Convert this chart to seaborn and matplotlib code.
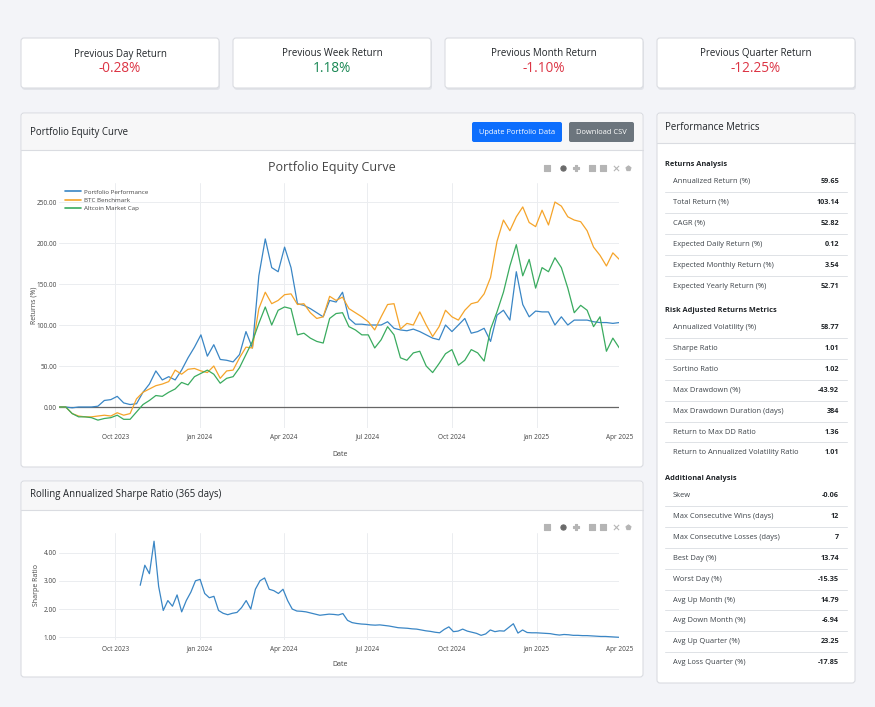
import numpy as np
import pandas as pd
import seaborn as sns
import matplotlib.pyplot as plt
import matplotlib.dates as mdates
from matplotlib.patches import FancyBboxPatch, Rectangle

# ---- data ----
card_titles = ["Previous Day Return", "Previous Week Return",
               "Previous Month Return", "Previous Quarter Return"]
card_values = [-0.28, 1.18, -1.10, -12.25]

dates = pd.date_range("2023-08-01", "2025-04-01", periods=88)
portfolio = [0, 0, -1, 0, 0, 0, 1, 8, 9, 13,
             5, 3, 4, 18, 28, 44, 33, 37, 33, 45,
             60, 73, 88, 62, 76, 58, 57, 55, 64, 92,
             72, 160, 205, 170, 165, 195, 170, 126, 124, 120,
             115, 110, 130, 128, 140, 108, 101, 101, 100, 100,
             100, 104, 96, 94, 93, 95, 92, 88, 84, 82,
             100, 92, 100, 108, 90, 92, 96, 80, 112, 118,
             106, 165, 125, 110, 117, 116, 116, 100, 110, 100,
             106, 106, 106, 104, 103, 103, 102, 103]
btc = [0, 0, -8, -11, -12, -12, -11, -10, -11, -7,
       -10, -8, 10, 18, 22, 26, 28, 31, 45, 40,
       46, 47, 44, 42, 50, 35, 44, 45, 60, 73,
       72, 120, 140, 126, 130, 137, 138, 125, 126, 115,
       108, 110, 135, 130, 134, 120, 115, 110, 104, 94,
       110, 125, 126, 95, 102, 100, 116, 100, 86, 98,
       118, 110, 106, 118, 126, 128, 138, 158, 202, 228,
       215, 232, 244, 225, 220, 240, 222, 250, 245, 232,
       228, 226, 215, 195, 185, 172, 188, 180]
altcoin = [0, 0, -8, -12, -12, -13, -16, -14, -13, -10,
           -15, -15, -6, 3, 8, 14, 13, 18, 22, 30,
           27, 37, 41, 45, 40, 29, 35, 37, 48, 64,
           80, 102, 122, 100, 118, 122, 120, 88, 90, 84,
           80, 78, 108, 114, 115, 98, 94, 88, 88, 72,
           82, 98, 88, 60, 57, 66, 68, 50, 42, 53,
           65, 70, 51, 57, 70, 66, 56, 95, 116, 140,
           172, 198, 160, 180, 145, 170, 165, 182, 170, 145,
           115, 124, 118, 98, 110, 68, 84, 72]

sharpe_dates = pd.date_range("2023-10-28", "2025-04-01", periods=105)
sharpe = [2.84, 3.55, 3.25, 4.40, 2.80, 1.95, 2.30, 2.10, 2.50, 1.90,
          2.30, 2.60, 3.00, 3.05, 2.55, 2.40, 2.45, 1.95, 1.85, 1.80,
          1.85, 1.88, 2.05, 2.30, 2.00, 2.70, 3.00, 3.10, 2.70, 2.65,
          2.55, 2.70, 2.30, 2.00, 1.93, 1.92, 1.90, 1.86, 1.82, 1.78,
          1.80, 1.82, 1.81, 1.79, 1.84, 1.60, 1.52, 1.49, 1.47, 1.46,
          1.44, 1.43, 1.44, 1.42, 1.40, 1.37, 1.34, 1.33, 1.32, 1.30,
          1.29, 1.26, 1.23, 1.21, 1.18, 1.16, 1.28, 1.37, 1.20, 1.22,
          1.29, 1.22, 1.18, 1.14, 1.07, 1.12, 1.26, 1.20, 1.23, 1.22,
          1.35, 1.48, 1.15, 1.26, 1.17, 1.16, 1.16, 1.15, 1.14, 1.13,
          1.10, 1.08, 1.10, 1.09, 1.07, 1.07, 1.06, 1.06, 1.05, 1.04,
          1.03, 1.03, 1.02, 1.01, 1.00]

returns_labels = ["Annualized Return (%)", "Total Return (%)", "CAGR (%)",
                  "Expected Daily Return (%)", "Expected Monthly Return (%)",
                  "Expected Yearly Return (%)"]
returns_values = ["59.65", "103.14", "52.82", "0.12", "3.54", "52.71"]
risk_labels = ["Annualized Volatility (%)", "Sharpe Ratio", "Sortino Ratio",
               "Max Drawdown (%)", "Max Drawdown Duration (days)",
               "Return to Max DD Ratio", "Return to Annualized Volatility Ratio"]
risk_values = ["58.77", "1.01", "1.02", "-43.92", "384", "1.36", "1.01"]
extra_labels = ["Skew", "Max Consecutive Wins (days)", "Max Consecutive Losses (days)",
                "Best Day (%)", "Worst Day (%)", "Avg Up Month (%)",
                "Avg Down Month (%)", "Avg Up Quarter (%)", "Avg Loss Quarter (%)"]
extra_values = ["-0.06", "12", "7", "13.74", "-15.35", "14.79", "-6.94", "23.25", "-17.85"]

# ---- style ----
sns.set_style("white")
plt.rcParams['font.family'] = ['Open Sans', 'DejaVu Sans']

W, H = 875, 707
fig = plt.figure(figsize=(W / 100, H / 100), dpi=100)
fig.patch.set_facecolor('#f3f4f8')

bg = fig.add_axes([0, 0, 1, 1])
bg.set_xlim(0, W)
bg.set_ylim(H, 0)
bg.axis('off')

TXT = '#212529'
MUTED = '#444444'


def fig_rect(x0, y0, x1, y1):
    return [x0 / W, 1 - y1 / H, (x1 - x0) / W, (y1 - y0) / H]


def card(x0, y0, x1, y1, header=None, shadow=False):
    if shadow:
        bg.add_patch(FancyBboxPatch((x0 + 1, y0 + 2), x1 - x0, y1 - y0,
                                    boxstyle="round,pad=0,rounding_size=3",
                                    fc='#e2e4e9', ec='none'))
    bg.add_patch(FancyBboxPatch((x0, y0), x1 - x0, y1 - y0,
                                boxstyle="round,pad=0,rounding_size=3",
                                fc='white', ec='#dadce1', lw=0.8))
    if header:
        bg.add_patch(Rectangle((x0 + 0.6, y0 + 0.6), x1 - x0 - 1.2, header - y0 - 0.6,
                               fc='#f7f7f8', ec='none'))
        bg.plot([x0, x1], [header, header], color='#dadce1', lw=0.8)


def modebar(y):
    xs = [547, 563, 576, 592, 603, 616, 628]
    marks = ['s', 'o', 'P', 's', 's', 'x', 'p']
    cols = ['#b5b5b5', '#6a6a6a', '#b5b5b5', '#b5b5b5', '#b5b5b5', '#b5b5b5', '#b5b5b5']
    for x, m, c in zip(xs, marks, cols):
        bg.scatter([x], [y], marker=m, s=14, color=c, linewidths=0.8)


# top summary cards
for k, (t, v) in enumerate(zip(card_titles, card_values)):
    x0 = 21 + k * 212
    card(x0, 38, x0 + 198, 88, shadow=True)
    bg.text(x0 + 99, 54, t, ha='center', va='center', fontsize=7.0, color=TXT)
    bg.text(x0 + 99, 68, f"{v:.2f}%", ha='center', va='center', fontsize=9.8,
            color='#dc3545' if v < 0 else '#198754')

# equity panel
card(21, 113, 643, 467, header=150)
bg.text(30, 132, "Portfolio Equity Curve", ha='left', va='center', fontsize=6.9, color=TXT)
bg.add_patch(FancyBboxPatch((472, 122), 90, 20, boxstyle="round,pad=0,rounding_size=2",
                            fc='#0d6efd', ec='none'))
bg.text(517, 132, "Update Portfolio Data", ha='center', va='center', fontsize=5.4, color='white')
bg.add_patch(FancyBboxPatch((569, 122), 65, 20, boxstyle="round,pad=0,rounding_size=2",
                            fc='#6c757d', ec='none'))
bg.text(601.5, 132, "Download CSV", ha='center', va='center', fontsize=5.4, color='white')
bg.text(332, 167, "Portfolio Equity Curve", ha='center', va='center', fontsize=9.0, color=MUTED)
modebar(168)

# sharpe panel
card(21, 481, 643, 677, header=510)
bg.text(30, 495, "Rolling Annualized Sharpe Ratio (365 days)", ha='left', va='center',
        fontsize=6.9, color=TXT)
modebar(527)

# metrics panel
card(657, 113, 855, 683, header=143)
bg.text(665, 128, "Performance Metrics", ha='left', va='center', fontsize=6.9, color=TXT)
sections = [("Returns Analysis", 164, returns_labels, returns_values),
            ("Risk Adjusted Returns Metrics", 310, risk_labels, risk_values),
            ("Additional Analysis", 478, extra_labels, extra_values)]
for head, hy, labels, values in sections:
    bg.text(665, hy, head, ha='left', va='center', fontsize=5.3, color=TXT, fontweight='bold')
    for r, (lab, val) in enumerate(zip(labels, values)):
        ry = hy + 17.5 + r * 20.9
        bg.text(673, ry, lab, ha='left', va='center', fontsize=5.4, color='#3d4349')
        bg.text(839, ry, val, ha='right', va='center', fontsize=5.2, color=TXT, fontweight='bold')
        if r < len(labels) - 1:
            bg.plot([665, 847], [ry + 10.45, ry + 10.45], color='#dee2e6', lw=0.7)

# ---- charts ----
x_lo, x_hi = pd.Timestamp("2023-08-01"), pd.Timestamp("2025-04-01")


def style_axis(ax):
    for s in ax.spines.values():
        s.set_visible(False)
    ax.set_facecolor('white')
    ax.grid(True, color='#ebedf0', lw=0.7)
    ax.set_axisbelow(True)
    ax.tick_params(length=0, labelsize=4.7, colors=MUTED)
    ax.tick_params(axis='y', pad=1.8)
    ax.tick_params(axis='x', pad=4.0)
    ax.xaxis.set_major_locator(mdates.MonthLocator(bymonth=[1, 4, 7, 10]))
    ax.xaxis.set_major_formatter(mdates.DateFormatter('%b %Y'))
    ax.set_xlim(x_lo, x_hi)
    ax.set_xlabel("")
    ax.set_ylabel("")


eq = pd.DataFrame({"Date": dates,
                   "Portfolio Performance": portfolio,
                   "BTC Benchmark": btc,
                   "Altcoin Market Cap": altcoin}).melt(id_vars="Date", var_name="Series",
                                                        value_name="Returns")
palette = {"Portfolio Performance": '#3a86c5',
           "BTC Benchmark": '#f5a42a',
           "Altcoin Market Cap": '#3aab5f'}

ax1 = fig.add_axes(fig_rect(59.3, 183, 619.3, 428))
ax1.axhline(0, color='#666666', lw=0.9, zorder=1.5)
sns.lineplot(data=eq, x="Date", y="Returns", hue="Series", palette=palette,
             linewidth=0.9, ax=ax1)
style_axis(ax1)
ax1.set_ylim(-25.6, 273.2)
ax1.set_yticks([0, 50, 100, 150, 200, 250])
ax1.yaxis.set_major_formatter(plt.FuncFormatter(lambda v, p: f"{v:.2f}"))
leg = ax1.legend(loc='upper left', bbox_to_anchor=(0.005, 0.985), frameon=False,
                 fontsize=4.5, handlelength=2.6, handletextpad=0.5, labelspacing=0.45,
                 borderaxespad=0)
for t in leg.get_texts():
    t.set_color(MUTED)
for l in leg.get_lines():
    l.set_linewidth(1.2)
bg.text(34, 305, "Returns (%)", rotation=90, ha='center', va='center', fontsize=5.0, color=MUTED)
bg.text(340, 455, "Date", ha='center', va='center', fontsize=5.0, color=MUTED)

sh = pd.DataFrame({"Date": sharpe_dates, "Sharpe Ratio": sharpe})
ax2 = fig.add_axes(fig_rect(59.3, 533, 619.3, 640))
sns.lineplot(data=sh, x="Date", y="Sharpe Ratio", color='#3a86c5', linewidth=0.9, ax=ax2)
style_axis(ax2)
ax2.set_ylim(0.905, 4.69)
ax2.set_yticks([1, 2, 3, 4])
ax2.yaxis.set_major_formatter(plt.FuncFormatter(lambda v, p: f"{v:.2f}"))
bg.text(37, 585, "Sharpe Ratio", rotation=90, ha='center', va='center', fontsize=5.0, color=MUTED)
bg.text(340, 664, "Date", ha='center', va='center', fontsize=5.0, color=MUTED)

fig.savefig("out.png", dpi=100, facecolor=fig.get_facecolor())
